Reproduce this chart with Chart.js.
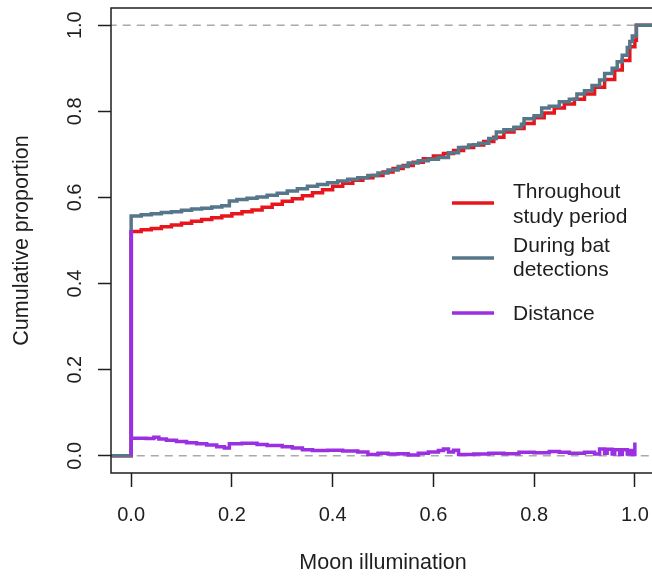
<!DOCTYPE html>
<html>
<head>
<meta charset="utf-8">
<script src="https://cdn.jsdelivr.net/npm/chart.js@4.4.1/dist/chart.umd.min.js"></script>
<style>
  body { margin: 0; background: #fff; }
  #wrap { width: 652px; height: 578px; overflow: hidden; }
</style>
</head>
<body>
<div id="wrap"><canvas id="chart" width="660" height="578"></canvas></div>
<script>
// tick labels
const xTicks = [0, 0.2, 0.4, 0.6, 0.8, 1.0];
const yTicks = [0, 0.2, 0.4, 0.6, 0.8, 1.0];

// cumulative proportion, throughout study period (red)
const studyX = [-0.04, 0, 0.02, 0.04, 0.06, 0.08, 0.10, 0.12, 0.14, 0.16, 0.18, 0.20, 0.22, 0.24, 0.26, 0.28, 0.30,
  0.32, 0.34, 0.36, 0.38, 0.40, 0.42, 0.44, 0.46, 0.48, 0.50, 0.52, 0.54, 0.56, 0.58, 0.60, 0.62, 0.64, 0.66,
  0.68, 0.70, 0.72, 0.74, 0.76, 0.78, 0.80, 0.82, 0.84, 0.86, 0.88, 0.90, 0.92, 0.94, 0.96, 0.975, 0.99, 1.0,
  1.003, 1.06];
const studyY = [0, 0.521, 0.525, 0.528, 0.532, 0.536, 0.540, 0.545, 0.549, 0.553, 0.557, 0.562, 0.567, 0.571, 0.577,
  0.584, 0.591, 0.597, 0.604, 0.611, 0.618, 0.626, 0.633, 0.640, 0.646, 0.651, 0.659, 0.667, 0.674, 0.682, 0.690,
  0.696, 0.702, 0.709, 0.716, 0.722, 0.730, 0.740, 0.752, 0.760, 0.772, 0.785, 0.796, 0.808, 0.817, 0.828, 0.840,
  0.856, 0.874, 0.896, 0.918, 0.950, 0.965, 1.0, 1.0];

// cumulative proportion, during bat detections (blue-grey)
const batX = [-0.04, 0, 0.02, 0.04, 0.06, 0.08, 0.10, 0.12, 0.14, 0.16, 0.18, 0.195, 0.21, 0.23, 0.25, 0.27, 0.29,
  0.31, 0.33, 0.35, 0.37, 0.39, 0.41, 0.43, 0.45, 0.47, 0.49, 0.51, 0.53, 0.55, 0.57, 0.59, 0.61, 0.63, 0.65,
  0.67, 0.69, 0.71, 0.725, 0.74, 0.76, 0.775, 0.78, 0.80, 0.815, 0.83, 0.85, 0.87, 0.885, 0.90, 0.915, 0.93,
  0.94, 0.955, 0.965, 0.975, 0.985, 0.99, 0.995, 1.003, 1.06];
const batY = [0, 0.557, 0.560, 0.562, 0.565, 0.567, 0.570, 0.573, 0.575, 0.578, 0.581, 0.592, 0.595, 0.598, 0.601,
  0.605, 0.610, 0.615, 0.620, 0.626, 0.630, 0.634, 0.638, 0.642, 0.646, 0.651, 0.657, 0.664, 0.672, 0.680, 0.685,
  0.689, 0.693, 0.704, 0.716, 0.722, 0.726, 0.737, 0.752, 0.757, 0.763, 0.770, 0.783, 0.790, 0.808, 0.812, 0.822,
  0.828, 0.840, 0.848, 0.860, 0.873, 0.888, 0.900, 0.915, 0.930, 0.948, 0.962, 0.975, 1.0, 1.0];

// distance between the two curves (purple)
const distX = [0, 0, 0.0005, 0.03, 0.045, 0.055, 0.07, 0.09, 0.11, 0.13, 0.15, 0.17, 0.185, 0.195, 0.22, 0.25, 0.27,
  0.30, 0.32, 0.34, 0.36, 0.39, 0.42, 0.45, 0.47, 0.49, 0.51, 0.53, 0.55, 0.57, 0.59, 0.61, 0.62, 0.63, 0.64,
  0.65, 0.68, 0.71, 0.74, 0.77, 0.80, 0.83, 0.85, 0.87, 0.90, 0.92, 0.93, 0.94, 0.945, 0.955, 0.96, 0.97, 0.975,
  0.985, 0.99, 0.995, 1.0];
const distY = [0, 0.52, 0.041, 0.040, 0.043, 0.039, 0.036, 0.033, 0.030, 0.028, 0.025, 0.021, 0.018, 0.028, 0.029,
  0.026, 0.024, 0.021, 0.018, 0.014, 0.012, 0.013, 0.011, 0.009, 0.003, 0.006, 0.004, 0.005, 0.002, 0.006, 0.009,
  0.012, 0.016, 0.009, 0.013, 0.003, 0.004, 0.006, 0.005, 0.008, 0.007, 0.010, 0.008, 0.006, 0.008, 0.004, 0.016,
  0.006, 0.015, 0.004, 0.014, 0.003, 0.014, 0.004, 0.012, 0.003, 0.031];

// reference lines
const refLevels = [0, 1];

const legendLabels = [['Throughout', 'study period'], ['During bat', 'detections'], ['Distance']];

const RED = '#e8161c';
const BLUE = '#567689';
const PURPLE = '#9b30e3';
const INK = '#1e1e1e';
const FONT = 'Liberation Sans, Arial, sans-serif';

const pts = (xs, ys) => xs.map((x, i) => ({ x: x, y: ys[i] }));

// chart.js 'before' = horizontal first, then the jump (ecdf style)
const stepLine = (label, xs, ys, color, order) => ({
  label: label, data: pts(xs, ys), borderColor: color, borderWidth: 3.5,
  pointRadius: 0, stepped: 'before', fill: false, order: order
});

const datasets = refLevels.map(v => ({
  label: 'ref' + v, data: [{ x: -0.1, y: v }, { x: 1.1, y: v }],
  borderColor: '#aaaaaa', borderWidth: 1.5, borderDash: [8, 6], pointRadius: 0, order: 10
}));
datasets.push(stepLine('Throughout study period', studyX, studyY, RED, 3));
datasets.push(stepLine('During bat detections', batX, batY, BLUE, 2));
datasets.push(stepLine('Distance', distX, distY, PURPLE, 1));

const legendColors = [RED, BLUE, PURPLE];

// box around the plot region plus an R style legend
const extras = {
  id: 'extras',
  afterDatasetsDraw(chart) {
    const { ctx, chartArea: a } = chart;
    ctx.save();
    ctx.strokeStyle = INK;
    ctx.lineWidth = 1.5;
    ctx.strokeRect(a.left, a.top, a.right - a.left, a.bottom - a.top);

    const lineY = [203, 258, 313];
    const textY = [[192, 217], [246, 270], [314]];
    ctx.font = '21px ' + FONT;
    ctx.textBaseline = 'middle';
    ctx.textAlign = 'left';
    legendLabels.forEach((lines, i) => {
      ctx.strokeStyle = legendColors[i];
      ctx.lineWidth = 3.5;
      ctx.beginPath();
      ctx.moveTo(452, lineY[i]);
      ctx.lineTo(494, lineY[i]);
      ctx.stroke();
      ctx.fillStyle = INK;
      lines.forEach((t, j) => ctx.fillText(t, 513, textY[i][j]));
    });
    ctx.restore();
  }
};

new Chart(document.getElementById('chart').getContext('2d'), {
  type: 'line',
  data: { datasets: datasets },
  plugins: [extras],
  options: {
    responsive: false,
    animation: false,
    layout: { padding: { top: 8, right: 5, left: 0, bottom: 0 } },
    plugins: { legend: { display: false }, tooltip: { enabled: false } },
    scales: {
      x: {
        type: 'linear', position: 'bottom', min: -0.04, max: 1.04,
        afterBuildTicks: s => { s.ticks = xTicks.map(v => ({ value: v })); },
        afterFit: s => { s.height = 105; s.paddingLeft = 0; s.paddingRight = 0; },
        grid: { drawOnChartArea: false, drawTicks: true, tickLength: 14, tickColor: INK, tickWidth: 1.5 },
        border: { display: false },
        ticks: { font: { family: FONT, size: 20 }, color: INK, padding: 16, maxRotation: 0,
          callback: v => Number(v).toFixed(1) },
        title: { display: true, text: 'Moon illumination', color: INK,
          font: { family: FONT, size: 21.5 }, padding: { top: 0, bottom: 2 } }
      },
      y: {
        type: 'linear', min: -0.04, max: 1.04,
        afterBuildTicks: s => { s.ticks = yTicks.map(v => ({ value: v })); },
        afterFit: s => { s.width = 111; s.paddingTop = 0; s.paddingBottom = 0; },
        grid: { drawOnChartArea: false, drawTicks: true, tickLength: 13, tickColor: INK, tickWidth: 1.5 },
        border: { display: false },
        ticks: { font: { family: FONT, size: 20 }, color: INK, padding: 9, minRotation: 90, maxRotation: 90,
          crossAlign: 'center', callback: v => Number(v).toFixed(1) },
        title: { display: true, text: 'Cumulative proportion', color: INK,
          font: { family: FONT, size: 21.5 }, padding: { top: 9, bottom: 0 } }
      }
    }
  }
});
</script>
</body>
</html>
